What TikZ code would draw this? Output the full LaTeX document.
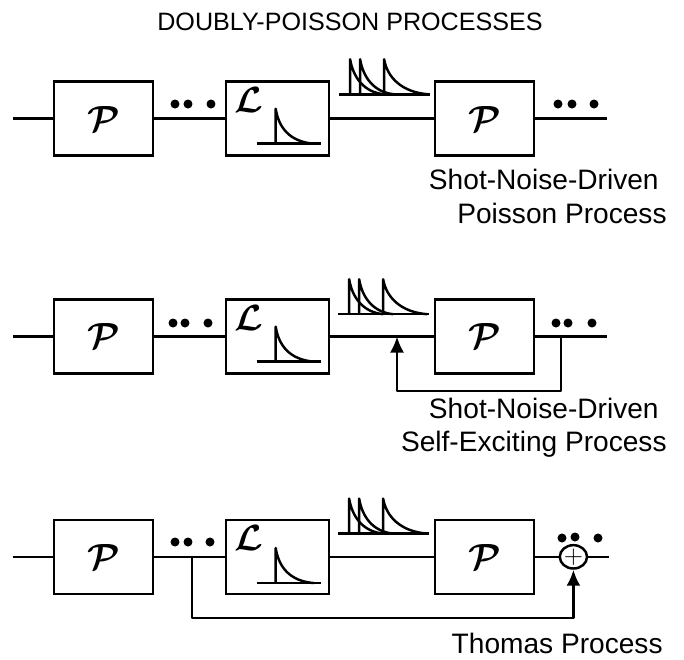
\documentclass[tikz,border=0pt]{standalone}
\usepackage{amsmath}
\usepackage{fontspec}
\setmainfont{Liberation Sans}
\usetikzlibrary{arrows.meta,positioning,calc,shapes.geometric}

\begin{document}
\begin{tikzpicture}[
    x=0.02cm, y=-0.02cm,
    node distance=1.41cm and 2.07cm,
    wire/.style={line width=1.4pt, line join=round},
    arrow/.style={wire, -{Latex[length=3.2mm,width=2.8mm]}},
    block/.style={rectangle, draw, line width=1.4pt, minimum width=1.98cm, minimum height=1.48cm, inner sep=0pt},
    lblock/.style={block, minimum width=2.06cm},
    calig/.style={font=\fontsize{20}{20}\selectfont, inner sep=0pt},
    caption/.style={font=\fontsize{16}{19}\selectfont, inner sep=0pt, anchor=base east},
    blob/.style={circle, fill=black, minimum size=0.18cm, inner sep=0pt},
    adder/.style={ellipse, draw, line width=1.4pt, minimum width=0.5cm, minimum height=0.42cm, inner sep=0pt, font=\Large},
    lpulse/.pic={
        \draw[wire] (-19,0) -- (45,0);
        \draw[wire] (0,0) -- (0,-35) .. controls (3,-16) and (14,-2) .. (38,0);
    },
    spiketrain/.pic={
        \draw[wire] (-11,0) -- (80,0);
        \foreach \s/\w in {0/34, 10/34, 34/44}
            \draw[wire] (\s,0) -- (\s,-35) .. controls ($(\s,-35)+(3,18)$) and ($(\s,0)+(0.4*\w,-2)$) .. ($(\s,0)+(\w,0)$);
    }
]

\useasboundingbox (0,0) rectangle (684,660);

% Title
\node[font=\fontsize{14.3}{18}\selectfont, inner sep=0pt, anchor=base] (title) at (350,30) {DOUBLY-POISSON PROCESSES};

% First row
\node[block] (pa1) at (103.5,118.5) {};
\node[lblock, right=1.41cm of pa1] (la1) {};
\node[block, right=of la1] (pb1) {};
\node[calig] (psa1) at (pa1) {$\boldsymbol{\mathcal{P}}$};
\node[calig] (psb1) at (pb1) {$\boldsymbol{\mathcal{P}}$};
\node[calig, below right=0.14cm and 0.18cm of la1.north west] (ls1) {$\boldsymbol{\mathcal{L}}$};
\coordinate[left=0.8cm of pa1.west] (in1);
\coordinate[right=1.44cm of pb1.east] (out1);
\draw[wire] (in1) -- (pa1);
\draw[wire] (pa1) -- (la1);
\draw[wire] (la1) -- (pb1);
\draw[wire] (pb1) -- (out1);
\pic at ($(la1.south west)+(51,-13)$) {lpulse};
\pic at ($(la1.north east)+(20,14)$) {spiketrain};
\foreach \x in {175,188,211,558,572,594}
    \node[blob] (dots1\x) at (\x,104) {};
\node[caption] (capa1) at (659,189) {Shot-Noise-Driven};
\node[caption] (capb1) at (667,223) {Poisson Process};

% Second row
\node[block, below=2.83cm of pa1] (pa2) {};
\node[lblock, right=1.41cm of pa2] (la2) {};
\node[block, right=of la2] (pb2) {};
\node[calig] (psa2) at (pa2) {$\boldsymbol{\mathcal{P}}$};
\node[calig] (psb2) at (pb2) {$\boldsymbol{\mathcal{P}}$};
\node[calig, below right=0.14cm and 0.18cm of la2.north west] (ls2) {$\boldsymbol{\mathcal{L}}$};
\coordinate[left=0.8cm of pa2.west] (in2);
\coordinate[right=1.44cm of pb2.east] (out2);
\coordinate (join2) at (397,336.5);
\coordinate (tap2) at (561,336.5);
\coordinate (low2) at (561,391);
\draw[wire] (in2) -- (pa2);
\draw[wire] (pa2) -- (la2);
\draw[wire] (la2) -- (pb2);
\draw[wire] (pb2) -- (out2);
\draw[arrow] (tap2) -- (low2) -| (join2);
\pic at ($(la2.south west)+(51,-13)$) {lpulse};
\pic at ($(la2.north east)+(19,16)$) {spiketrain};
\foreach \x in {173,185,208,556,568,592}
    \node[blob] (dots2\x) at (\x,323) {};
\node[caption] (capa2) at (659,418) {Shot-Noise-Driven};
\node[caption] (capb2) at (667,451) {Self-Exciting Process};

% Third row
\node[block, below=2.88cm of pa2] (pa3) {};
\node[lblock, right=1.41cm of pa3] (la3) {};
\node[block, right=of la3] (pb3) {};
\node[calig] (psa3) at (pa3) {$\boldsymbol{\mathcal{P}}$};
\node[calig] (psb3) at (pb3) {$\boldsymbol{\mathcal{P}}$};
\node[calig, below right=0.14cm and 0.18cm of la3.north west] (ls3) {$\boldsymbol{\mathcal{L}}$};
\node[adder, right=0.47cm of pb3] (sum3) {$+$};
\coordinate[left=0.8cm of pa3.west] (in3);
\coordinate[right=0.42cm of sum3.east] (out3);
\coordinate (tap3) at (192,557);
\coordinate (low3) at (192,618);
\draw[wire] (in3) -- (pa3);
\draw[wire] (pa3) -- (la3);
\draw[wire] (la3) -- (pb3);
\draw[wire] (pb3) -- (sum3);
\draw[wire] (sum3) -- (out3);
\draw[arrow] (tap3) -- (low3) -| (sum3);
\pic at ($(la3.south west)+(51,-12)$) {lpulse};
\pic at ($(la3.north east)+(19,15)$) {spiketrain};
\foreach \x/\y in {175/542,188/542,210/542,562/538,575/537,598/538}
    \node[blob] (dots3\x) at (\x,\y) {};
\node[caption] (capa3) at (663,653) {Thomas Process};

\end{tikzpicture}
\end{document}
